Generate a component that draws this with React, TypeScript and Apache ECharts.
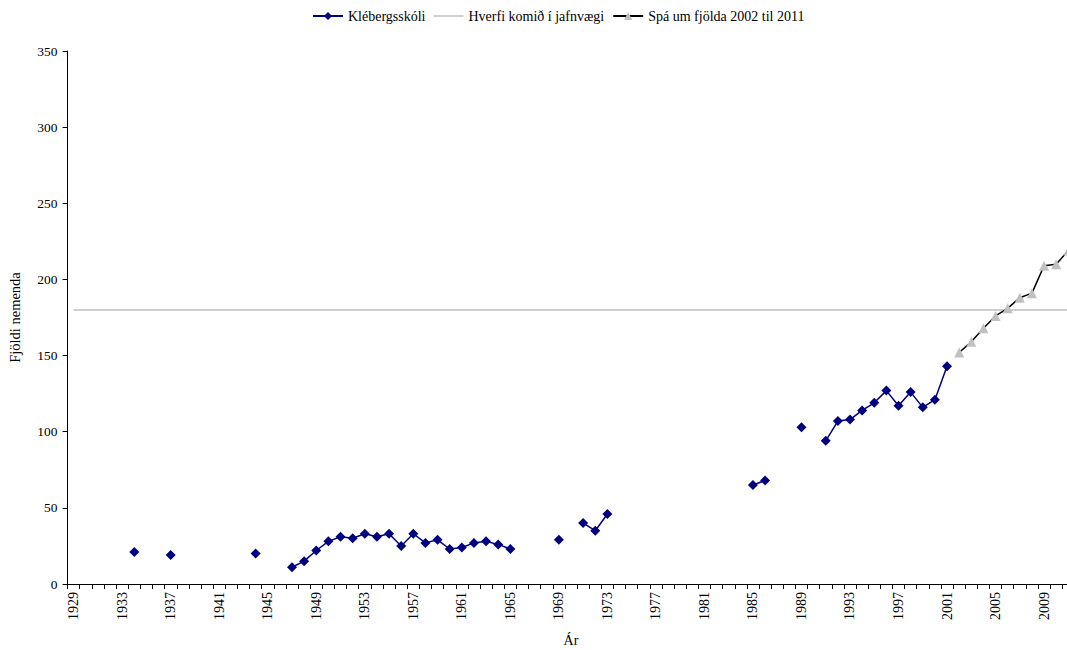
import React, { useEffect, useRef } from "react";
import * as echarts from "echarts";

const firstYear = 1929;
const lastYear = 2011;
const categories: string[] = [];
for (let y = firstYear; y <= lastYear; y++) categories.push(String(y));

const kleYears = [1934, 1937, 1944, 1947, 1948, 1949, 1950, 1951, 1952, 1953, 1954, 1955, 1956, 1957, 1958, 1959, 1960, 1961, 1962, 1963, 1964, 1965, 1969, 1971, 1972, 1973, 1985, 1986, 1989, 1991, 1992, 1993, 1994, 1995, 1996, 1997, 1998, 1999, 2000, 2001];
const kleValues = [21, 19, 20, 11, 15, 22, 28, 31, 30, 33, 31, 33, 25, 33, 27, 29, 23, 24, 27, 28, 26, 23, 29, 40, 35, 46, 65, 68, 103, 94, 107, 108, 114, 119, 127, 117, 126, 116, 121, 143];

const spaYears = [2002, 2003, 2004, 2005, 2006, 2007, 2008, 2009, 2010, 2011];
const spaValues = [152, 159, 168, 176, 181, 188, 191, 209, 210, 219];

const balanceLevel = 180;

const yTicks = [0, 50, 100, 150, 200, 250, 300, 350];

function toSeries(years: number[], values: number[]): (number | null)[] {
  return categories.map((c) => {
    const i = years.indexOf(Number(c));
    return i >= 0 ? values[i] : null;
  });
}

const FONT = '"Liberation Serif", "Times New Roman", serif';

export default function App() {
  const ref = useRef<HTMLDivElement>(null);
  useEffect(() => {
    if (!ref.current) return;
    const chart = echarts.init(ref.current, null, { renderer: "svg" });
    chart.setOption({
      animation: false,
      backgroundColor: "#ffffff",
      textStyle: { fontFamily: FONT, color: "#000" },
      legend: {
        top: 4,
        left: 307,
        itemWidth: 30,
        itemHeight: 10,
        itemGap: 8,
        textStyle: { fontFamily: FONT, fontSize: 14, color: "#000" },
        data: [
          { name: "Klébergsskóli" },
          { name: "Hverfi komið í jafnvægi", icon: "path://M0,0 L30,0 L30,1.5 L0,1.5 Z" },
          { name: "Spá um fjölda 2002 til 2011" },
        ],
      },
      grid: {
        left: 67.6,
        right: 5.6,
        top: 51,
        bottom: 66,
        containLabel: false,
        outerBoundsMode: "none",
      },
      xAxis: {
        type: "category",
        data: categories,
        boundaryGap: true,
        name: "Ár",
        nameLocation: "middle",
        nameGap: 49,
        nameTextStyle: { fontFamily: FONT, fontSize: 14, color: "#000" },
        axisLine: { lineStyle: { color: "#000", width: 1 } },
        axisTick: { show: true, interval: 0, length: 5, lineStyle: { color: "#000" } },
        axisLabel: {
          interval: 3,
          rotate: 90,
          margin: 8,
          fontFamily: FONT,
          fontSize: 14,
          color: "#000",
        },
        splitLine: { show: false },
      },
      yAxis: {
        type: "value",
        min: yTicks[0],
        max: yTicks[yTicks.length - 1],
        interval: 50,
        name: "Fjöldi nemenda",
        nameLocation: "middle",
        nameGap: 45,
        nameTextStyle: { fontFamily: FONT, fontSize: 14.5, color: "#000" },
        axisLine: { show: true, lineStyle: { color: "#000", width: 1 } },
        axisTick: { show: true, length: 5, lineStyle: { color: "#000" } },
        axisLabel: { margin: 10, fontFamily: FONT, fontSize: 13.5, color: "#000" },
        splitLine: { show: false },
      },
      series: [
        {
          name: "Klébergsskóli",
          type: "line",
          data: toSeries(kleYears, kleValues),
          connectNulls: false,
          symbol: "diamond",
          symbolSize: 10,
          showAllSymbol: true,
          itemStyle: { color: "#000080" },
          lineStyle: { color: "#000080", width: 1.5 },
          z: 3,
        },
        {
          name: "Hverfi komið í jafnvægi",
          type: "line",
          data: categories.map(() => balanceLevel),
          symbol: "none",
          itemStyle: { color: "#c0c0c0" },
          lineStyle: { color: "#c0c0c0", width: 1.5 },
          z: 2,
        },
        {
          name: "Spá um fjölda 2002 til 2011",
          type: "line",
          data: toSeries(spaYears, spaValues),
          symbol: "triangle",
          symbolSize: 10,
          showAllSymbol: true,
          itemStyle: { color: "#c0c0c0" },
          lineStyle: { color: "#000000", width: 1.5 },
          z: 4,
        },
      ],
    });
    return () => chart.dispose();
  }, []);
  return (
    <div
      style={{ position: "fixed", left: 0, top: 0, width: 1067, height: 650, overflow: "hidden", background: "#fff" }}
    >
      <div ref={ref} style={{ width: 1080, height: 650 }} />
    </div>
  );
}
